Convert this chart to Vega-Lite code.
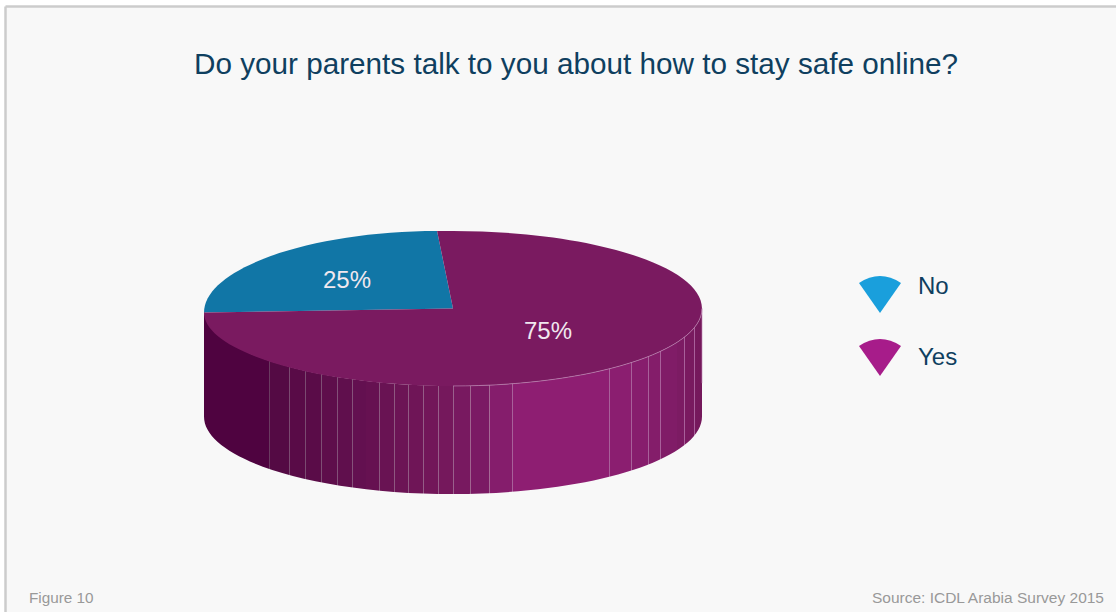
{
"$schema":"https://vega.github.io/schema/vega-lite/v6.json",
"width":1111,"height":606,
"autosize":{"type":"none"},
"padding":{"left":5,"top":6,"right":0,"bottom":0},
"background":"#ffffff",
"view":{"fill":"#f8f8f8","stroke":null},
"title":{"text":"Do your parents talk to you about how to stay safe online?","anchor":"middle","orient":"top","offset":-75,"dx":15.5,"font":"Liberation Sans","fontSize":29.7,"fontWeight":"normal","color":"#0f3f5f"},
"data":{"values":[{"answer":"No","share":25,"label":"25%"},{"answer":"Yes","share":75,"label":"75%"}]},
"layer":[
{"transform":[{"filter":"datum.answer==='Yes'"}],
"mark":{"type":"point","filled":true,"size":248004,"opacity":1,"strokeWidth":0,
"shape":"M-1,0 C-1,0.172 -0.552,0.311 0,0.311 C0.552,0.311 1,0.172 1,0 L1,0.434 C1,0.606 0.552,0.745 0,0.745 C-0.552,0.745 -1,0.606 -1,0.434 Z",
"color":{"gradient":"linear","x1":0,"x2":1,"y1":0,"y2":0,"stops":[
{"offset":0,"color":"#4f0340"},{"offset":0.1315,"color":"#4f0340"},{"offset":0.1315,"color":"#6a3a60"},{"offset":0.1335,"color":"#6a3a60"},{"offset":0.1335,"color":"#540a44"},
{"offset":0.1697,"color":"#540a44"},{"offset":0.1697,"color":"#7a4a70"},{"offset":0.1717,"color":"#7a4a70"},{"offset":0.1717,"color":"#590b47"},
{"offset":0.2038,"color":"#590b47"},{"offset":0.2038,"color":"#7a4a70"},{"offset":0.2058,"color":"#7a4a70"},{"offset":0.2058,"color":"#5a0c48"},
{"offset":0.2359,"color":"#5a0c48"},{"offset":0.2359,"color":"#7e4e74"},{"offset":0.2379,"color":"#7e4e74"},{"offset":0.2379,"color":"#5e0e4b"},
{"offset":0.2661,"color":"#5e0e4b"},{"offset":0.2661,"color":"#825078"},{"offset":0.2681,"color":"#825078"},{"offset":0.2681,"color":"#600f4d"},
{"offset":0.2962,"color":"#600f4d"},{"offset":0.2962,"color":"#85527a"},{"offset":0.2982,"color":"#85527a"},{"offset":0.2982,"color":"#631050"},
{"offset":0.3243,"color":"#631050"},{"offset":0.3243,"color":"#88547c"},{"offset":0.3263,"color":"#88547c"},{"offset":0.3263,"color":"#661151"},
{"offset":0.3524,"color":"#661151"},{"offset":0.3524,"color":"#8b567e"},{"offset":0.3544,"color":"#8b567e"},{"offset":0.3544,"color":"#691353"},
{"offset":0.3825,"color":"#691353"},{"offset":0.3825,"color":"#8e5880"},{"offset":0.3845,"color":"#8e5880"},{"offset":0.3845,"color":"#6c1455"},
{"offset":0.4106,"color":"#6c1455"},{"offset":0.4106,"color":"#915a83"},{"offset":0.4126,"color":"#915a83"},{"offset":0.4126,"color":"#6f1557"},
{"offset":0.4388,"color":"#6f1557"},{"offset":0.4388,"color":"#945c86"},{"offset":0.4408,"color":"#945c86"},{"offset":0.4408,"color":"#721659"},
{"offset":0.4689,"color":"#721659"},{"offset":0.4689,"color":"#975e89"},{"offset":0.4709,"color":"#975e89"},{"offset":0.4709,"color":"#75185c"},
{"offset":0.5010,"color":"#75185c"},{"offset":0.5010,"color":"#9a608c"},{"offset":0.5030,"color":"#9a608c"},{"offset":0.5030,"color":"#781960"},
{"offset":0.5351,"color":"#781960"},{"offset":0.5351,"color":"#a0648f"},{"offset":0.5371,"color":"#a0648f"},{"offset":0.5371,"color":"#7b1a64"},
{"offset":0.5713,"color":"#7b1a64"},{"offset":0.5713,"color":"#a66a96"},{"offset":0.5733,"color":"#a66a96"},{"offset":0.5733,"color":"#851d6c"},
{"offset":0.6175,"color":"#851d6c"},{"offset":0.6175,"color":"#a8609a"},{"offset":0.6195,"color":"#a8609a"},{"offset":0.6195,"color":"#8e1e72"},
{"offset":0.8123,"color":"#8e1e72"},{"offset":0.8123,"color":"#a8609a"},{"offset":0.8143,"color":"#a8609a"},{"offset":0.8143,"color":"#8b1e70"},
{"offset":0.8584,"color":"#8b1e70"},{"offset":0.8584,"color":"#a8609a"},{"offset":0.8604,"color":"#a8609a"},{"offset":0.8604,"color":"#871d6d"},
{"offset":0.8906,"color":"#871d6d"},{"offset":0.8906,"color":"#a8609a"},{"offset":0.8926,"color":"#a8609a"},{"offset":0.8926,"color":"#841d6a"},
{"offset":0.9147,"color":"#841d6a"},{"offset":0.9147,"color":"#a8609a"},{"offset":0.9167,"color":"#a8609a"},{"offset":0.9167,"color":"#801c67"},
{"offset":0.9488,"color":"#801c67"},{"offset":0.9488,"color":"#a8609a"},{"offset":0.9508,"color":"#a8609a"},{"offset":0.9508,"color":"#7c1b63"},
{"offset":0.9629,"color":"#7c1b63"},{"offset":0.9629,"color":"#a8609a"},{"offset":0.9649,"color":"#a8609a"},{"offset":0.9649,"color":"#7a1a60"},
{"offset":0.9749,"color":"#7a1a60"},{"offset":0.9749,"color":"#a8609a"},{"offset":0.9769,"color":"#a8609a"},{"offset":0.9769,"color":"#781a5f"},
{"offset":0.9849,"color":"#781a5f"},{"offset":0.9849,"color":"#a8609a"},{"offset":0.9869,"color":"#a8609a"},{"offset":0.9869,"color":"#76195d"},
{"offset":1,"color":"#74185b"}]}},
"encoding":{
"x":{"datum":448,"type":"quantitative","scale":{"domain":[0,1111],"nice":false,"zero":false},"axis":{"orient":"top","title":null,"ticks":false,"labels":false,"grid":false,"domainColor":"#cccccc","domainWidth":2.5}},
"y":{"datum":302.5,"type":"quantitative","scale":{"domain":[606,0],"nice":false,"zero":false},"axis":{"orient":"left","title":null,"ticks":false,"labels":false,"grid":false,"domainColor":"#cccccc","domainWidth":2.5}}
}},
{"mark":{"type":"point","filled":true,"size":248004,"opacity":1,"strokeOpacity":0},
"encoding":{
"x":{"datum":448,"type":"quantitative","scale":{"domain":[0,1111],"nice":false,"zero":false},"axis":{"orient":"top","title":null,"ticks":false,"labels":false,"grid":false,"domainColor":"#cccccc","domainWidth":2.5}},
"y":{"datum":302.5,"type":"quantitative","scale":{"domain":[606,0],"nice":false,"zero":false},"axis":{"orient":"left","title":null,"ticks":false,"labels":false,"grid":false,"domainColor":"#cccccc","domainWidth":2.5}},
"shape":{"field":"answer","type":"nominal","legend":null,"scale":{"domain":["No","Yes"],"range":[
"M0,0 L-1,0.016 C-1,-0.165 -0.56,-0.311 -0.064,-0.311 Z",
"M0,0 L-0.064,-0.311 L0,-0.311 C0.552,-0.311 1,-0.172 1,0 C1,0.172 0.552,0.311 0,0.311 C-0.552,0.311 -1,0.172 -1,0.016 Z"]}},
"fill":{"field":"answer","type":"nominal","legend":null,"scale":{"domain":["No","Yes"],"range":["#1176a6","#7a1a60"]}},
"stroke":{"field":"answer","type":"nominal","scale":{"range":["#1a9fdc","#a71c8a"]},
"legend":{"title":null,"orient":"none","legendX":854,"legendY":268,"symbolSize":1764,"symbolStrokeWidth":0,"labelFont":"Liberation Sans","labelFontSize":24,"labelColor":"#0f3f5f","labelOffset":17,"rowPadding":23,"labelLimit":200,
"encoding":{"symbols":{"shape":{"value":"M0,0.86 L-1,-0.57 Q0,-1.23 1,-0.57 Z"},"fill":{"condition":{"test":"datum.value==='No'","value":"#1a9fdc"},"value":"#a71c8a"},"opacity":{"value":1},"strokeOpacity":{"value":0}},"labels":{"dy":{"condition":{"test":"datum.value==='No'","value":-8},"value":0}}}}}
}},
{"transform":[{"filter":"datum.answer==='Yes'"}],
"mark":{"type":"point","filled":false,"size":248004,"opacity":0.8,"stroke":"#c08ab8","strokeWidth":0.8,"shape":"M0,0.311 C0.552,0.311 1,0.172 1,0 L1,0.3"},
"encoding":{
"x":{"datum":448,"type":"quantitative","scale":{"domain":[0,1111],"nice":false,"zero":false},"axis":{"orient":"top","title":null,"ticks":false,"labels":false,"grid":false,"domainColor":"#cccccc","domainWidth":2.5}},
"y":{"datum":302.5,"type":"quantitative","scale":{"domain":[606,0],"nice":false,"zero":false},"axis":{"orient":"left","title":null,"ticks":false,"labels":false,"grid":false,"domainColor":"#cccccc","domainWidth":2.5}}
}},
{"transform":[{"filter":"datum.answer==='No'"}],
"mark":{"type":"text","font":"Liberation Sans","fontSize":24,"color":"#f0e8ef","align":"center","baseline":"middle"},
"encoding":{
"text":{"field":"label"},
"x":{"datum":342,"type":"quantitative","scale":{"domain":[0,1111],"nice":false,"zero":false},"axis":{"orient":"top","title":null,"ticks":false,"labels":false,"grid":false,"domainColor":"#cccccc","domainWidth":2.5}},
"y":{"datum":275,"type":"quantitative","scale":{"domain":[606,0],"nice":false,"zero":false},"axis":{"orient":"left","title":null,"ticks":false,"labels":false,"grid":false,"domainColor":"#cccccc","domainWidth":2.5}}
}},
{"transform":[{"filter":"datum.answer==='Yes'"}],
"mark":{"type":"text","font":"Liberation Sans","fontSize":24,"color":"#f0e8ef","align":"center","baseline":"middle"},
"encoding":{
"text":{"field":"label"},
"x":{"datum":543,"type":"quantitative","scale":{"domain":[0,1111],"nice":false,"zero":false},"axis":{"orient":"top","title":null,"ticks":false,"labels":false,"grid":false,"domainColor":"#cccccc","domainWidth":2.5}},
"y":{"datum":326,"type":"quantitative","scale":{"domain":[606,0],"nice":false,"zero":false},"axis":{"orient":"left","title":null,"ticks":false,"labels":false,"grid":false,"domainColor":"#cccccc","domainWidth":2.5}}
}},
{"data":{"values":[{"note":"Figure 10"}]},
"mark":{"type":"text","font":"Liberation Sans","fontSize":15.3,"color":"#999999","align":"left","baseline":"alphabetic"},
"encoding":{
"text":{"field":"note"},
"x":{"datum":24,"type":"quantitative","scale":{"domain":[0,1111],"nice":false,"zero":false},"axis":{"orient":"top","title":null,"ticks":false,"labels":false,"grid":false,"domainColor":"#cccccc","domainWidth":2.5}},
"y":{"datum":597,"type":"quantitative","scale":{"domain":[606,0],"nice":false,"zero":false},"axis":{"orient":"left","title":null,"ticks":false,"labels":false,"grid":false,"domainColor":"#cccccc","domainWidth":2.5}}
}},
{"data":{"values":[{"note":"Source: ICDL Arabia Survey 2015"}]},
"mark":{"type":"text","font":"Liberation Sans","fontSize":15.5,"color":"#999999","align":"right","baseline":"alphabetic"},
"encoding":{
"text":{"field":"note"},
"x":{"datum":1099,"type":"quantitative","scale":{"domain":[0,1111],"nice":false,"zero":false},"axis":{"orient":"top","title":null,"ticks":false,"labels":false,"grid":false,"domainColor":"#cccccc","domainWidth":2.5}},
"y":{"datum":597,"type":"quantitative","scale":{"domain":[606,0],"nice":false,"zero":false},"axis":{"orient":"left","title":null,"ticks":false,"labels":false,"grid":false,"domainColor":"#cccccc","domainWidth":2.5}}
}}
]}
